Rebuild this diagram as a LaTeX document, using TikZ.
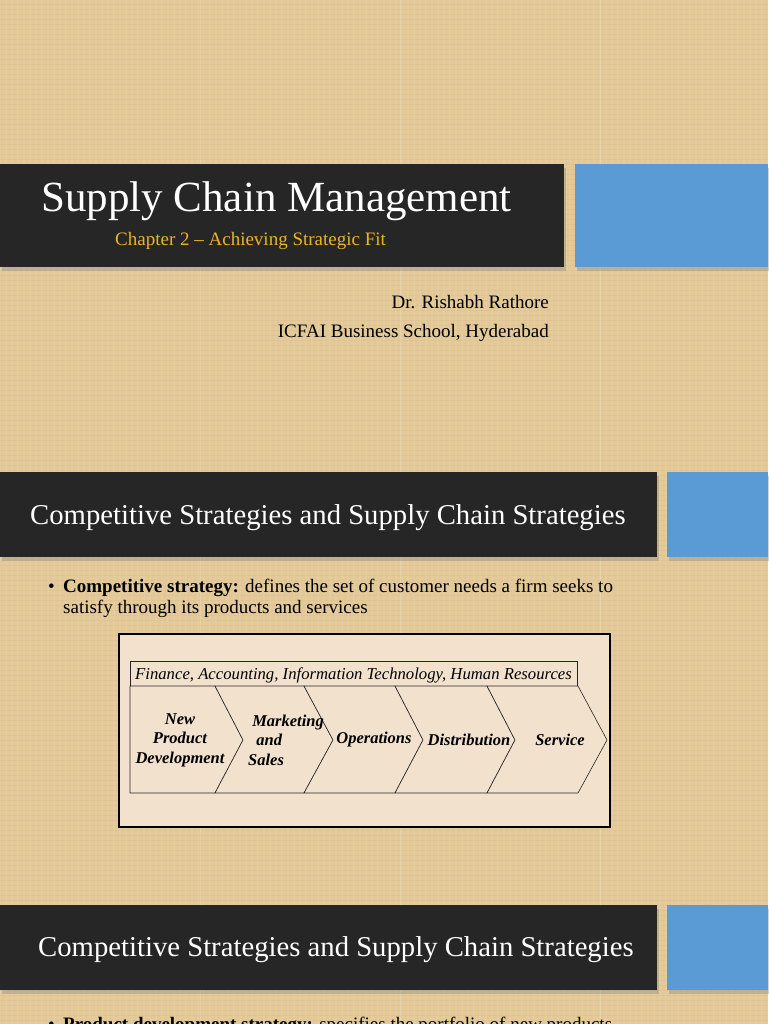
\documentclass[tikz,border=0pt]{standalone}
\usepackage{fontspec}
\setmainfont{Liberation Serif}
\usetikzlibrary{shadows}
\definecolor{bgtan}{HTML}{E2C997}
\definecolor{bandblack}{HTML}{262626}
\definecolor{slideblue}{HTML}{5B9BD5}
\definecolor{gold}{HTML}{E9B526}
\definecolor{figfill}{HTML}{F2E2CD}
\tikzset{
  band/.style={fill=bandblack, draw=none, drop shadow={shadow xshift=2pt, shadow yshift=-4pt, opacity=0.35}},
  bluebox/.style={fill=slideblue, draw=none, drop shadow={shadow xshift=2pt, shadow yshift=-4pt, opacity=0.35}},
  chev/.style={draw=black!85, line width=0.6pt, fill=figfill},
  chevlabel/.style={font=\fontsize{16.5}{19.5}\selectfont\bfseries\itshape, align=center, inner sep=0pt},
  bodytext/.style={font=\fontsize{19}{21}\selectfont, inner sep=0pt, text=black}
}
\begin{document}
\begin{tikzpicture}[x=1pt,y=-1pt]
\useasboundingbox (0,0) rectangle (768,1024);
% background with faint linen texture
\fill[bgtan] (0,0) rectangle (768,1024);
\foreach \i in {0,6,...,768} {\draw[white, opacity=0.07, line width=1.5pt] (\i,0) -- (\i,1024);}
\foreach \j in {0,5,...,1024} {\draw[brown, opacity=0.06, line width=1pt] (0,\j) -- (768,\j);}
\foreach \i in {200,400,600} {\draw[white, opacity=0.18, line width=1pt] (\i,0) -- (\i,1024);}

% ---- slide 1 ----
\fill[band] (0,164) rectangle (564,267);
\fill[bluebox] (575,164) rectangle (768,267);
\node[anchor=base west, inner sep=0pt, text=white, font=\fontsize{43}{48}\selectfont] (t1) at (41,212) {Supply Chain Management};
\node[anchor=base west, inner sep=0pt, text=gold, font=\fontsize{19}{21}\selectfont] (st1) at (115,245) {Chapter 2 – Achieving Strategic Fit};
\node[bodytext, anchor=base east] (auth) at (549,308) {Dr. Rishabh Rathore};
\node[bodytext, anchor=base east] (inst) at (549,337) {ICFAI Business School, Hyderabad};

% ---- slide 2 ----
\fill[band] (0,472) rectangle (657,557);
\fill[bluebox] (667,472) rectangle (768,557);
\node[anchor=base west, inner sep=0pt, text=white, font=\fontsize{28.7}{32}\selectfont] (t2) at (30,524) {Competitive Strategies and Supply Chain Strategies};
\node[bodytext, anchor=base west] (b1) at (48,592) {•};
\node[bodytext, anchor=base west] (l1) at (63,592) {\textbf{Competitive strategy:} defines the set of customer needs a firm seeks to};
\node[bodytext, anchor=base west] (l2) at (63,613) {satisfy through its products and services};

% figure
\draw[fill=figfill, draw=black, line width=1.4pt] (119,634) rectangle (610,827);
\draw[draw=black!85, line width=0.6pt] (130,661) rectangle (577,686);
\node[anchor=base west, inner sep=0pt, font=\fontsize{16.7}{18}\selectfont\itshape] (fin) at (135,679) {Finance, Accounting, Information Technology, Human Resources};
\draw[chev] (130,686) -- (215,686) -- (243,740) -- (215,793) -- (130,793) -- cycle;
\draw[chev] (215,686) -- (304,686) -- (333,740) -- (304,793) -- (215,793) -- (243,740) -- cycle;
\draw[chev] (304,686) -- (395,686) -- (423,740) -- (395,793) -- (304,793) -- (333,740) -- cycle;
\draw[chev] (395,686) -- (487,686) -- (515,740) -- (487,793) -- (395,793) -- (423,740) -- cycle;
\draw[chev] (487,686) -- (578,686) -- (607,740) -- (578,793) -- (487,793) -- (515,740) -- cycle;
\node[chevlabel] (npd) at (180,740) {New\\Product\\Development};
\node[chevlabel, align=left, anchor=west] (mks) at (248,740) {\ Marketing\\\ \ and\\Sales};
\node[chevlabel] (ops) at (374,740) {Operations};
\node[chevlabel] (dist) at (469,740) {Distribution};
\node[chevlabel] (serv) at (560,740) {Service};

% ---- slide 3 ----
\fill[band] (0,905) rectangle (657,990);
\fill[bluebox] (667,905) rectangle (768,990);
\node[anchor=base west, inner sep=0pt, text=white, font=\fontsize{28.7}{32}\selectfont] (t3) at (38,956) {Competitive Strategies and Supply Chain Strategies};
\node[bodytext, anchor=base west] (b2) at (48,1030) {•};
\node[bodytext, anchor=base west] (l3) at (63,1030) {\textbf{Product development strategy:} specifies the portfolio of new products};
\end{tikzpicture}
\end{document}
